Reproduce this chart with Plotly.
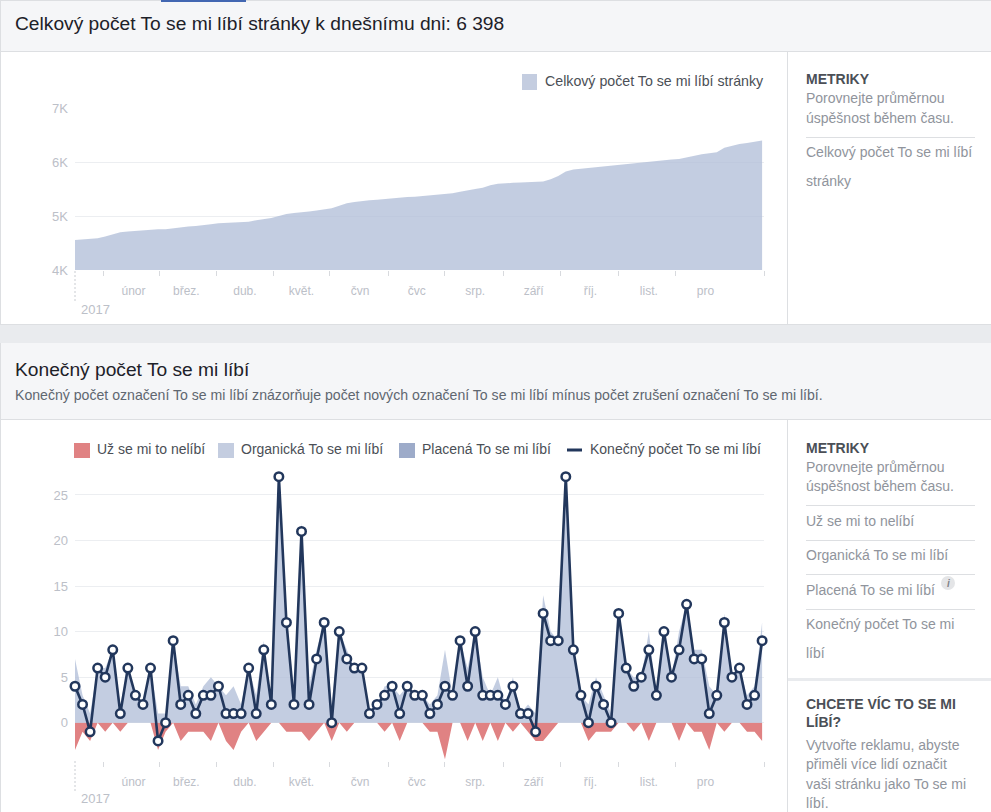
import plotly.graph_objects as go
from datetime import date, timedelta

W, H = 991, 812
FONT = "Liberation Sans, Arial, sans-serif"

# ---------- data ----------
dates = [(date(2017, 1, 1) + timedelta(days=4 * i)).isoformat() for i in range(92)]
total_likes = [4555, 4565, 4575, 4590, 4620, 4665, 4700, 4715, 4725, 4735, 4750, 4755, 4755, 4775, 4795, 4805,
               4815, 4825, 4845, 4865, 4870, 4875, 4880, 4895, 4920, 4940, 4965, 5000, 5035, 5055, 5075, 5085,
               5100, 5125, 5145, 5190, 5235, 5260, 5280, 5290, 5300, 5315, 5325, 5335, 5350, 5355, 5370, 5385,
               5395, 5405, 5420, 5450, 5480, 5500, 5525, 5570, 5595, 5610, 5615, 5620, 5625, 5630, 5640, 5680,
               5740, 5825, 5860, 5875, 5890, 5900, 5920, 5935, 5950, 5965, 5975, 5990, 6005, 6020, 6035, 6045,
               6055, 6085, 6125, 6145, 6160, 6180, 6265, 6305, 6335, 6350, 6375, 6398]
net_likes = [4, 2, -1, 6, 5, 8, 1, 6, 3, 2, 6, -2, 0, 9, 2, 3, 1, 3, 3, 4, 1, 1, 1, 6, 1, 8, 2, 27, 11, 2, 21, 2,
             7, 11, 0, 10, 7, 6, 6, 1, 2, 3, 4, 1, 4, 3, 3, 1, 2, 4, 3, 9, 4, 10, 3, 3, 3, 2, 4, 1, 1, -1,
             12, 9, 9, 27, 8, 3, 0, 4, 2, 0, 12, 6, 4, 5, 8, 3, 10, 5, 8, 13, 7, 7, 1, 3, 11, 5, 6, 2, 3, 9]
unlikes = [-3, -1, -2, 0, -1, 0, -1, 0, 0, 0, 0, -3, -1, 0, -2, -1, -1, -1, -2, 0, -2, -3, -1, 0, -2, -1, 0, 0,
           -1, -1, -1, -2, -1, 0, -2, 0, -1, 0, 0, 0, 0, -1, 0, -2, 0, 0, 0, -1, -1, -4, 0, 0, -2, 0, -2, 0,
           -2, 0, -1, 0, -1, -2, -2, -1, 0, 0, 0, 0, -2, -1, -1, -1, 0, 0, -1, 0, -2, 0, 0, 0, -2, 0, -1, -1,
           -3, 0, -1, 0, 0, -1, -1, -2]
organic_likes = [7, 3, 1, 6, 6, 8, 2, 6, 3, 2, 6, 1, 1, 9, 4, 4, 2, 4, 5, 4, 3, 4, 2, 6, 3, 9, 2, 27,
                 12, 3, 22, 4, 8, 11, 2, 10, 8, 6, 6, 1, 2, 4, 4, 3, 4, 3, 3, 2, 3, 8, 3, 9, 6, 10, 5, 3,
                 5, 2, 5, 1, 2, 1, 14, 10, 9, 27, 8, 3, 2, 5, 3, 1, 12, 6, 5, 5, 10, 3, 10, 5, 10, 13, 8, 8,
                 4, 3, 12, 5, 6, 3, 4, 11]
paid_likes = [0] * 92

month_dates = ["2017-02-01", "2017-03-01", "2017-04-01", "2017-05-01", "2017-06-01", "2017-07-01",
               "2017-08-01", "2017-09-01", "2017-10-01", "2017-11-01", "2017-12-01"]
month_labels = ["únor", "břez.", "dub.", "květ.", "čvn", "čvc", "srp.", "září", "říj.", "list.", "pro"]
tick_dates = ["2017-01-16", "2017-02-15", "2017-03-17", "2017-04-16", "2017-05-16", "2017-06-16",
              "2017-07-16", "2017-08-16", "2017-09-15", "2017-10-16", "2017-11-15", "2018-01-01"]
top_yticks = [4000, 5000, 6000, 7000]
top_ylabels = ["4K", "5K", "6K", "7K"]
bot_yticks = [0, 5, 10, 15, 20, 25]

# ---------- colours ----------
C_AREA = "rgba(176,189,215,0.76)"
C_SWATCH = "#c4cde0"
C_PAID = "#9dabc9"
C_RED = "#e08283"
C_NAVY = "#22375c"
C_GRID = "#eceef1"
C_TICK = "#d8dade"
C_LABEL = "#bcc0c8"
C_LINE = "#dddfe2"
C_PAGE = "#e9ebee"
C_HEAD = "#f5f6f8"
C_TEXT = "#1d2129"
C_GRAY = "#90949c"
C_DARK = "#4b4f56"
C_MID = "#606770"


def px(x):
    return x / W


def py(y):
    return 1 - y / H


shapes, notes = [], []


def rect(x0, y0, x1, y1, fill, radius=None):
    s = dict(type="rect", xref="paper", yref="paper", x0=px(x0), x1=px(x1), y0=py(y0), y1=py(y1),
             fillcolor=fill, line=dict(width=0), layer="below")
    shapes.append(s)


def line(x0, y0, x1, y1, color, width=1, dash=None):
    shapes.append(dict(type="line", xref="paper", yref="paper", x0=px(x0), x1=px(x1), y0=py(y0), y1=py(y1),
                       line=dict(color=color, width=width, dash=dash or "solid"), layer="below"))


def text(x, y, s, size, color, anchor="left", bold=False):
    x = x - 1 if anchor == "left" else x
    notes.append(dict(xref="paper", yref="paper", x=px(x), y=py(y), text=f"<b>{s}</b>" if bold else s,
                      showarrow=False, xanchor=anchor, yanchor="middle", borderpad=0, align="left",
                      font=dict(family=FONT, size=size, color=color)))


# page structure
rect(0, 0, W, H, "#ffffff")
rect(0, 0, W, 51, C_HEAD)
line(0, 0.5, W, 0.5, C_LINE)
rect(161, 0, 246, 2, "#4267b2")
line(0, 51.5, W, 51.5, C_LINE)
rect(0, 324, W, 343, C_PAGE)
line(0, 324.5, W, 324.5, C_LINE)
rect(0, 343, W, 419, C_HEAD)
line(0, 419.5, W, 419.5, C_LINE)
line(0.5, 0, 0.5, 324, C_LINE)
line(0.5, 343, 0.5, H, C_LINE)
line(787.5, 52, 787.5, 324, C_LINE)
line(787.5, 420, 787.5, H, C_LINE)
rect(788, 678, W, 681, C_PAGE)

# headers
text(15, 23, "Celkový počet To se mi líbí stránky k dnešnímu dni: 6 398", 19.2, C_TEXT)
text(15, 370, "Konečný počet To se mi líbí", 19.2, C_TEXT)
text(15, 395, "Konečný počet označení To se mi líbí znázorňuje počet nových označení To se mi líbí mínus počet zrušení označení To se mi líbí.", 14.1, C_MID)

# legends
rect(522, 74, 537, 90, C_SWATCH)
text(545, 81, "Celkový počet To se mi líbí stránky", 14.2, C_DARK)
rect(74, 443, 90, 458, C_RED)
text(97, 449, "Už se mi to nelíbí", 14, C_DARK)
rect(218, 443, 234, 458, C_SWATCH)
text(241, 449, "Organická To se mi líbí", 14, C_DARK)
rect(399, 443, 415, 458, C_PAID)
text(422, 449, "Placená To se mi líbí", 14, C_DARK)
line(567, 450, 582, 450, C_NAVY, 3)
text(590, 449, "Konečný počet To se mi líbí", 14, C_DARK)

# side panels
text(806, 79, "METRIKY", 14, C_DARK, bold=True)
text(806, 98, "Porovnejte průměrnou", 14, C_GRAY)
text(806, 118, "úspěšnost během času.", 14, C_GRAY)
line(806, 137.5, 975, 137.5, C_LINE)
text(806, 152, "Celkový počet To se mi líbí", 14, C_GRAY)
text(806, 181, "stránky", 14, C_GRAY)

text(806, 448, "METRIKY", 14, C_DARK, bold=True)
text(806, 467, "Porovnejte průměrnou", 14, C_GRAY)
text(806, 486, "úspěšnost během času.", 14, C_GRAY)
line(806, 505.5, 975, 505.5, C_LINE)
text(806, 521, "Už se mi to nelíbí", 14, C_GRAY)
line(806, 540.5, 975, 540.5, C_LINE)
text(806, 555, "Organická To se mi líbí", 14, C_GRAY)
line(806, 574.5, 975, 574.5, C_LINE)
text(806, 590, "Placená To se mi líbí", 14, C_GRAY)
shapes.append(dict(type="circle", xref="paper", yref="paper", x0=px(941), x1=px(955), y0=py(576), y1=py(590),
                   fillcolor="#e4e5e7", line=dict(width=0), layer="below"))
text(948, 583, "<i>i</i>", 10, "#7f8288", anchor="center", bold=True)
line(806, 609.5, 975, 609.5, C_LINE)
text(806, 624, "Konečný počet To se mi", 14, C_GRAY)
text(806, 653, "líbí", 14, C_GRAY)
text(806, 704, "CHCETE VÍC TO SE MI", 14, C_DARK, bold=True)
text(806, 722, "LÍBÍ?", 14, C_DARK, bold=True)
text(806, 745, "Vytvořte reklamu, abyste", 14, C_GRAY)
text(806, 764, "přiměli více lidí označit", 14, C_GRAY)
text(806, 784, "vaši stránku jako To se mi", 14, C_GRAY)
text(806, 803, "líbí.", 14, C_GRAY)

# year markers
line(75, 271, 75, 303, "#c9ccd1", 1, "2px,2px")
text(81, 309, "2017", 13, C_LABEL)
line(75, 761, 75, 792, "#c9ccd1", 1, "2px,2px")
text(81, 798, "2017", 13, C_LABEL)

fig = go.Figure()
fig.add_trace(go.Scatter(x=dates, y=total_likes, name="Celkový počet To se mi líbí stránky", mode="lines",
                         line=dict(width=0, color=C_AREA), fill="tozeroy", fillcolor=C_AREA,
                         xaxis="x", yaxis="y"))
fig.add_trace(go.Scatter(x=dates, y=unlikes, name="Už se mi to nelíbí", mode="lines",
                         line=dict(width=0, color=C_RED), fill="tozeroy", fillcolor=C_RED,
                         xaxis="x2", yaxis="y2"))
fig.add_trace(go.Scatter(x=dates, y=organic_likes, name="Organická To se mi líbí", mode="lines",
                         line=dict(width=0, color=C_AREA), fill="tozeroy", fillcolor=C_AREA,
                         xaxis="x2", yaxis="y2"))
fig.add_trace(go.Scatter(x=dates, y=paid_likes, name="Placená To se mi líbí", mode="lines",
                         line=dict(width=0, color=C_PAID), xaxis="x2", yaxis="y2"))
fig.add_trace(go.Scatter(x=dates, y=net_likes, name="Konečný počet To se mi líbí", mode="lines+markers",
                         line=dict(width=2.6, color=C_NAVY),
                         marker=dict(size=8.5, color="#ffffff", line=dict(width=2.5, color=C_NAVY)),
                         cliponaxis=False, xaxis="x2", yaxis="y2"))


def xaxis(anchor):
    return dict(type="date", range=["2017-01-01", "2018-01-01"], domain=[px(75), px(764)], anchor=anchor,
                tickmode="array", tickvals=month_dates, ticktext=month_labels, ticks="outside", ticklen=10,
                tickcolor="rgba(0,0,0,0)", showgrid=False, zeroline=False, showline=False,
                tickfont=dict(family=FONT, size=12, color=C_LABEL),
                minor=dict(tickmode="array", tickvals=tick_dates, ticks="outside", ticklen=5, tickwidth=1,
                           tickcolor=C_TICK, showgrid=False))


Y0_TOP, Y1_TOP = 270, 108
PX_UNIT = 9.11
BOT_MIN, BOT_MAX = -4.2, 28
Y0_BOT = 722.7 - BOT_MIN * PX_UNIT
Y1_BOT = 722.7 - BOT_MAX * PX_UNIT

fig.update_layout(
    width=W, height=H, autosize=False, margin=dict(l=0, r=0, t=0, b=0, pad=0, autoexpand=False),
    paper_bgcolor="#ffffff", plot_bgcolor="rgba(0,0,0,0)", showlegend=False,
    font=dict(family=FONT), shapes=shapes, annotations=notes,
    xaxis=xaxis("y"), xaxis2=xaxis("y2"),
    yaxis=dict(domain=[py(Y0_TOP), py(Y1_TOP)], range=[4000, 7000], anchor="x",
               tickmode="array", tickvals=top_yticks, ticktext=top_ylabels, ticks="",
               gridcolor=C_GRID, gridwidth=1, zeroline=False, showline=False, ticklabelstandoff=6,
               tickfont=dict(family=FONT, size=13, color=C_LABEL)),
    yaxis2=dict(domain=[py(Y0_BOT), py(Y1_BOT)], range=[BOT_MIN, BOT_MAX], anchor="x2",
                tickmode="array", tickvals=bot_yticks, ticks="",
                gridcolor=C_GRID, gridwidth=1, zeroline=False, showline=False, ticklabelstandoff=6,
                tickfont=dict(family=FONT, size=13, color=C_LABEL)),
)

fig.write_html("out.html", config=dict(displayModeBar=False, responsive=False),
               default_width=f"{W}px", default_height=f"{H}px",
               post_script="document.body.style.margin='0';document.body.style.overflow='hidden';")
